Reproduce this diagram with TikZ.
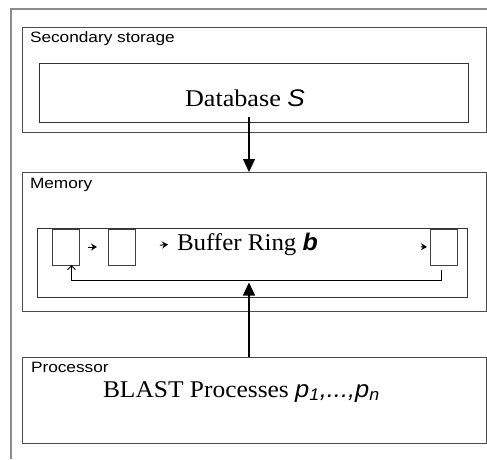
\documentclass[tikz,border=0pt]{standalone}
\usepackage{fontspec}
\setmainfont{Liberation Serif}
\setsansfont{Liberation Sans}
\usetikzlibrary{arrows.meta,positioning}
\newcommand{\xstretch}[2]{\scalebox{#1}[1]{#2}}

\begin{document}
\begin{tikzpicture}[x=1pt,y=-1pt,>=Stealth,
  every node/.style={inner sep=0pt,outer sep=0pt},
  frame/.style={draw=black!45,line width=1.3pt},
  panel/.style={draw=black!70,line width=0.9pt,anchor=north west,minimum width=464pt},
  inbox/.style={draw=black!80,line width=0.9pt,anchor=north west},
  cell/.style={draw=black!75,line width=0.8pt,anchor=north west,minimum width=27pt,minimum height=36pt},
  tag/.style={font=\sffamily\fontsize{15}{15}\selectfont,anchor=base west},
  title/.style={font=\fontsize{24}{24}\selectfont,anchor=base west},
  bigarrow/.style={-{Triangle[length=13pt,width=12pt]},line width=1.2pt},
  hop/.style={-{Stealth[length=6pt,width=7pt,inset=2pt]},line width=1pt},
  back/.style={-{Straight Barb[length=4pt,width=8pt]},line width=1pt}]
\useasboundingbox (0,0) rectangle (487,459);
\draw[frame] (11,459) -- (11,9) -- (487,9);

% secondary storage
\node[panel,minimum height=105pt] (store) at (22,27) {};
\node[tag] (storetag) at (30,42) {\xstretch{1.15}{Secondary storage}};
\node[inbox,minimum width=429pt,minimum height=59pt] (db) at (39,63) {};
\node[title] (dbtext) at (185,106) {\xstretch{1.09}{Database \textsf{\textit{S}}}};

% memory
\node[panel,minimum height=139pt] (mem) at (22,172) {};
\node[tag] (memtag) at (30,188) {\xstretch{1.15}{Memory}};
\node[inbox,minimum width=430pt,minimum height=69pt] (buf) at (37,228) {};
\node[cell] (c1) at (52,229) {};
\node[cell] (c2) at (108,229) {};
\node[cell] (c3) at (430,229) {};
\node[title] (ring) at (177,250) {\xstretch{1.04}{Buffer Ring \textsf{\textbf{\textit{b}}}}};
\coordinate (loopR) at (441,280);
\coordinate (loopL) at (71.5,280);
\coordinate (loop) at (249,280);

% processor
\node[panel,minimum height=86pt] (cpu) at (22,357) {};
\node[tag] (cputag) at (31,372) {\xstretch{1.15}{Processor}};
\node[title] (blast) at (103,397) {\xstretch{1.06}{BLAST Processes \textsf{\textit{p\textsubscript{1},...,p\textsubscript{n}}}}};

\draw[hop,shorten <=9pt,shorten >=11pt] (c1.east) -- (c2.west);
\draw[hop,shorten <=25pt,shorten >=9pt] (c2.east) -- (ring.west);
\draw[hop,shorten <=103pt,shorten >=3pt] (ring.east) -- (c3.west);
\draw[back] (loopR |- 0,270) -- (loopR) -- (loopL) -- (loopL |- c1.south);
\draw[bigarrow] ([xshift=-4.5pt,yshift=5pt]db.south) -- ([xshift=-5pt]mem.north);
\draw[bigarrow] ([xshift=-5pt]cpu.north) -- ([yshift=-2.5pt]loop);
\end{tikzpicture}
\end{document}
